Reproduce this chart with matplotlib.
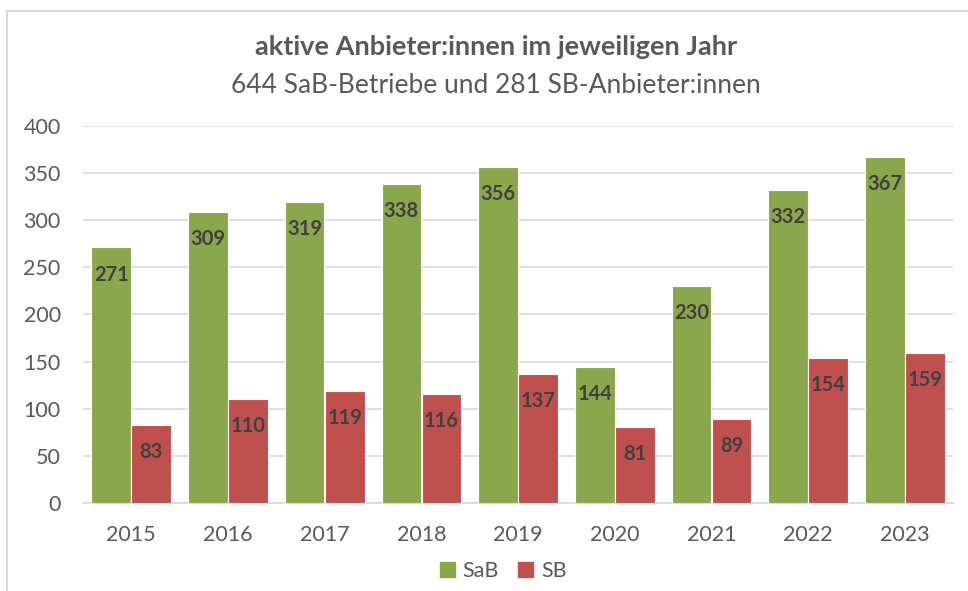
#!/usr/bin/env python
# -*- coding: utf-8 -*-

"""Grouped bar chart of active providers per year."""

import numpy as np
import matplotlib.pyplot as plt
from matplotlib.lines import Line2D

years = ["2015", "2016", "2017", "2018", "2019", "2020", "2021", "2022", "2023"]
sab = [271, 309, 319, 338, 356, 144, 230, 332, 367]
sb = [83, 110, 119, 116, 137, 81, 89, 154, 159]

title = "aktive Anbieter:innen im jeweiligen Jahr"
subtitle = "644 SaB-Betriebe und 281 SB-Anbieter:innen"

GREEN = "#8BA74C"
RED = "#C0504D"
GRID = "#D9D9D9"
TEXT = "#595959"
LABEL = "#404040"


def main():
    plt.rcParams["font.family"] = ["Lato", "DejaVu Sans"]

    fig = plt.figure(figsize=(9.68, 5.91), dpi=100)
    ax = fig.add_axes([0.0857, 0.149, 0.899, 0.638])

    x = np.arange(len(years))
    w = 0.41
    b1 = ax.bar(x - 0.207, sab, w, color=GREEN, edgecolor="white", linewidth=0.8, zorder=3)
    b2 = ax.bar(x + 0.207, sb, w, color=RED, edgecolor="white", linewidth=0.8, zorder=3)

    for bars in (b1, b2):
        for r in bars:
            ax.annotate(f"{int(r.get_height())}",
                        (r.get_x() + r.get_width() / 2, r.get_height()),
                        xytext=(0, -19.5), textcoords="offset points",
                        ha="center", va="center", fontsize=14.5,
                        fontweight="bold", color=LABEL, zorder=4)

    ax.set_xlim(-0.5, len(years) - 0.5)
    ax.set_ylim(0, 400)
    ax.set_yticks(range(0, 401, 50))
    ax.set_xticks(x)
    ax.set_xticklabels(years)
    ax.tick_params(length=0, labelsize=15.5, colors=TEXT)
    ax.tick_params(axis="x", pad=16)
    ax.tick_params(axis="y", pad=16)
    ax.yaxis.grid(True, color=GRID, linewidth=1.2, zorder=0)
    for s in ("top", "right", "left"):
        ax.spines[s].set_visible(False)
    ax.spines["bottom"].set_color(GRID)
    ax.spines["bottom"].set_linewidth(1.2)
    ax.spines["bottom"].set_zorder(2)

    fig.text(0.512, 0.92, title, ha="center", va="center", fontsize=19.5,
             fontweight="bold", color=TEXT)
    fig.text(0.512, 0.856, subtitle, ha="center", va="center", fontsize=19,
             color=TEXT)

    handles = [plt.Rectangle((0, 0), 1, 1, color=GREEN),
               plt.Rectangle((0, 0), 1, 1, color=RED)]
    fig.legend(handles, ["SaB", "SB"], loc="center", bbox_to_anchor=(0.52, 0.034),
               ncol=2, frameon=False, fontsize=15.5, handlelength=0.7,
               handleheight=0.7, handletextpad=0.35, columnspacing=0.9,
               labelcolor=TEXT)

    # chart area frame (only top and left edges visible in the crop)
    fig.add_artist(Line2D([0.0072, 0.0072], [0, 0.981], color=GRID, linewidth=1.5,
                          transform=fig.transFigure))
    fig.add_artist(Line2D([0.0072, 1.0], [0.981, 0.981], color=GRID, linewidth=1.5,
                          transform=fig.transFigure))

    fig.savefig("out.png", dpi=100)
    plt.close()


if __name__ == "__main__":
    main()
